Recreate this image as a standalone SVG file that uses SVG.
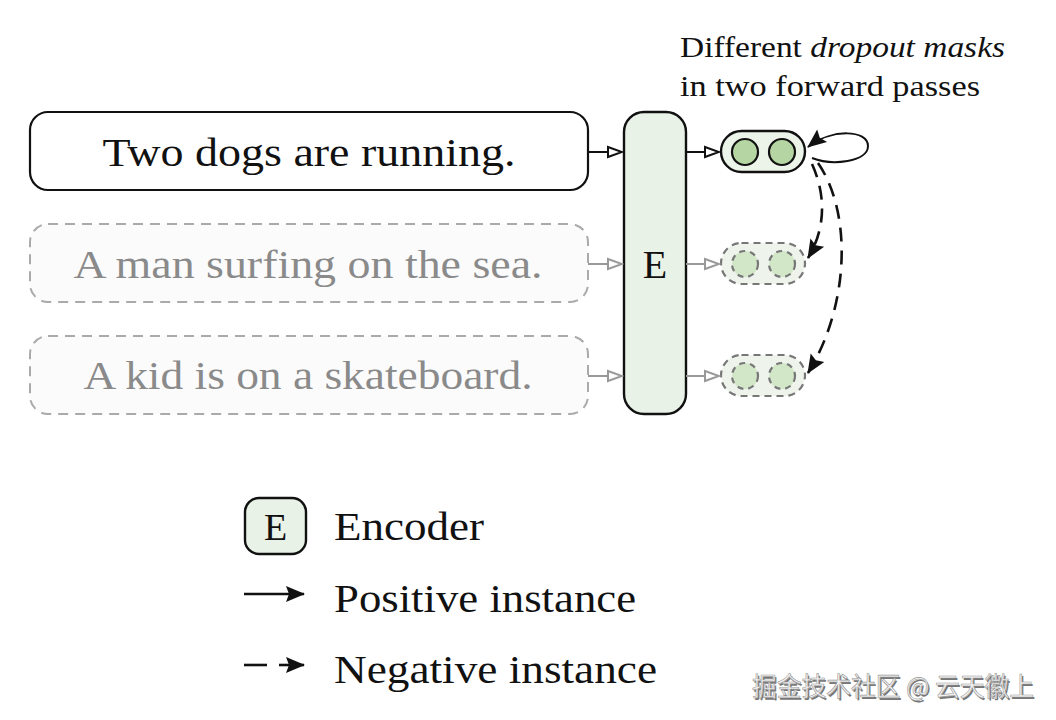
<svg xmlns="http://www.w3.org/2000/svg" width="1056" height="720" viewBox="0 0 1056 720">
<style>
.serif{font-family:"Liberation Serif","DejaVu Serif",serif;}
.sent{font-size:40px;text-anchor:middle;}
.box{fill:#ffffff;stroke:#111;stroke-width:2.2;}
.gbox{fill:#fbfbfb;stroke:#aaaaaa;stroke-width:2;stroke-dasharray:10 7;}
.enc{fill:#e9f2e6;stroke:#111;stroke-width:2.4;}
.pill{fill:#ecf3e9;stroke:#111;stroke-width:2.4;}
.gpill{fill:#eef4ec;stroke:#777;stroke-width:2.2;stroke-dasharray:7 5;}
.dot{fill:#b5d5a3;stroke:#111;stroke-width:2.2;}
.gdot{fill:#d2e6c8;stroke:#777;stroke-width:2.2;stroke-dasharray:6 5;}
.con{fill:none;stroke:#111;stroke-width:2;}
.gcon{fill:none;stroke:#999;stroke-width:2;}
.neg{fill:none;stroke:#111;stroke-width:2.6;stroke-dasharray:14 9;}
.leg{font-size:40px;fill:#111;}
.wm{font-family:"Noto Sans CJK SC","Liberation Sans",sans-serif;font-size:26px;}
</style>
<defs>
<marker id="openB" markerUnits="userSpaceOnUse" markerWidth="18" markerHeight="14" refX="16" refY="7" orient="auto">
<path d="M2,2 L16,7 L2,12 Z" fill="#fff" stroke="#111" stroke-width="2"/>
</marker>
<marker id="openG" markerUnits="userSpaceOnUse" markerWidth="18" markerHeight="14" refX="16" refY="7" orient="auto">
<path d="M2,2 L16,7 L2,12 Z" fill="#fff" stroke="#999" stroke-width="2"/>
</marker>
<marker id="fill" markerUnits="userSpaceOnUse" markerWidth="22" markerHeight="18" refX="19" refY="9" orient="auto">
<path d="M1,1 L20,9 L1,17 L4,9 Z" fill="#111"/>
</marker>
</defs>
<rect width="1056" height="720" fill="#ffffff"/>

<g id="caption">
<text class="serif" x="680" y="57" font-size="30" fill="#111" textLength="325" lengthAdjust="spacingAndGlyphs">Different <tspan font-style="italic">dropout masks</tspan></text>
<text class="serif" x="680" y="96" font-size="30" fill="#111" textLength="300" lengthAdjust="spacingAndGlyphs">in two forward passes</text>
</g>

<g id="sent1">
<rect class="box" x="30" y="112" width="558" height="78" rx="18"/>
<text class="serif sent" x="309" y="166" fill="#111" textLength="413" lengthAdjust="spacingAndGlyphs">Two dogs are running.</text>
</g>
<g id="sent2">
<rect class="gbox" x="30" y="224" width="558" height="78" rx="18"/>
<text class="serif sent" x="308" y="278" fill="#8a8a8a" textLength="469" lengthAdjust="spacingAndGlyphs">A man surfing on the sea.</text>
</g>
<g id="sent3">
<rect class="gbox" x="30" y="336" width="558" height="78" rx="18"/>
<text class="serif sent" x="308" y="389" fill="#8a8a8a" textLength="449" lengthAdjust="spacingAndGlyphs">A kid is on a skateboard.</text>
</g>

<g id="encoder">
<rect class="enc" x="624" y="112" width="62" height="302" rx="20"/>
<text class="serif" x="655" y="278" font-size="40" text-anchor="middle" fill="#111">E</text>
</g>

<g id="emb1">
<rect class="pill" x="721" y="131" width="84" height="41" rx="20.5"/>
<circle class="dot" cx="745" cy="152" r="13"/>
<circle class="dot" cx="782" cy="152" r="13"/>
</g>
<g id="emb2">
<rect class="gpill" x="721" y="243" width="84" height="41" rx="20.5"/>
<circle class="gdot" cx="745" cy="264" r="13"/>
<circle class="gdot" cx="782" cy="264" r="13"/>
</g>
<g id="emb3">
<rect class="gpill" x="721" y="355" width="84" height="41" rx="20.5"/>
<circle class="gdot" cx="745" cy="376" r="13"/>
<circle class="gdot" cx="782" cy="376" r="13"/>
</g>

<g id="connectors">
<line class="con" x1="588" y1="152" x2="622" y2="152" marker-end="url(#openB)"/>
<line class="gcon" x1="588" y1="264" x2="622" y2="264" marker-end="url(#openG)"/>
<line class="gcon" x1="588" y1="376" x2="622" y2="376" marker-end="url(#openG)"/>
<line class="con" x1="686" y1="152" x2="719" y2="152" marker-end="url(#openB)"/>
<line class="gcon" x1="686" y1="264" x2="719" y2="264" stroke="#777" marker-end="url(#openG)"/>
<line class="gcon" x1="686" y1="376" x2="719" y2="376" stroke="#777" marker-end="url(#openG)"/>
<path class="con" d="M812 158 C832 166 868 162 868 146 C868 130 832 128 808 147" stroke-width="2.2" marker-end="url(#fill)"/>
<path class="neg" d="M812 164 C826 195 826 228 808 258" marker-end="url(#fill)"/>
<path class="neg" d="M818 163 C852 212 850 305 808 373" marker-end="url(#fill)"/>
</g>

<g id="legend">
<rect class="enc" x="245" y="498" width="61" height="56" rx="14"/>
<text class="serif" x="275.5" y="540" font-size="38" text-anchor="middle" fill="#111">E</text>
<text class="serif leg" x="334" y="540" textLength="150" lengthAdjust="spacingAndGlyphs">Encoder</text>
<line x1="244" y1="594" x2="304" y2="594" stroke="#111" stroke-width="2.6" marker-end="url(#fill)"/>
<text class="serif leg" x="334" y="612" textLength="302" lengthAdjust="spacingAndGlyphs">Positive instance</text>
<line x1="244" y1="665" x2="267" y2="665" stroke="#111" stroke-width="2.6"/>
<line x1="279" y1="665" x2="304" y2="665" stroke="#111" stroke-width="2.6" marker-end="url(#fill)"/>
<text class="serif leg" x="334" y="683" textLength="323" lengthAdjust="spacingAndGlyphs">Negative instance</text>
</g>

<g id="watermark">
<text class="wm" x="753.5" y="697.5" fill="#777" textLength="282" lengthAdjust="spacingAndGlyphs">掘金技术社区 @ 云天徽上</text>
<text class="wm" x="752" y="696" fill="#f2f2f2" stroke="#9a9a9a" stroke-width="0.6" textLength="282" lengthAdjust="spacingAndGlyphs">掘金技术社区 @ 云天徽上</text>
</g>
</svg>
